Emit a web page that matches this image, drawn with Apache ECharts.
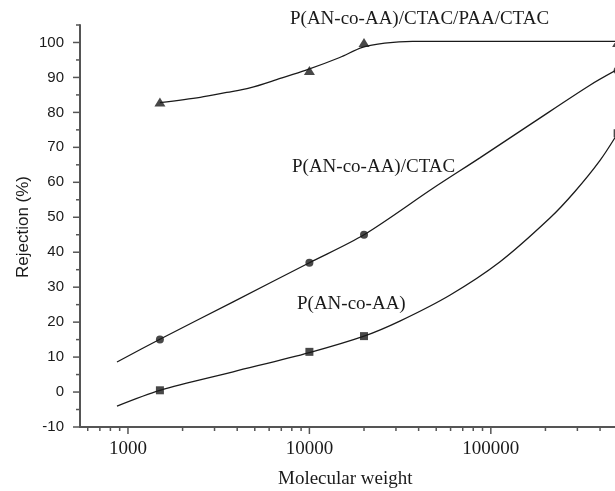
<!DOCTYPE html>
<html>
<head>
<meta charset="utf-8">
<script src="https://cdn.jsdelivr.net/npm/echarts@6/dist/echarts.min.js"></script>
<style>
  html, body { margin: 0; padding: 0; background: #ffffff; }
  #chart { width: 615px; height: 491px; }
</style>
</head>
<body>
<div id="chart"></div>
<script>
// Measured rejection (%) against molecular weight of the solute
const molecularWeight = [1500, 10000, 20000, 500000];
const rejectionBilayer = [83, 92, 100, 100];       // P(AN-co-AA)/CTAC/PAA/CTAC
const rejectionCtac = [15, 37, 45, 92];            // P(AN-co-AA)/CTAC
const rejectionCopolymer = [0.5, 11.5, 16, 74];    // P(AN-co-AA)

// Fitted trend curves through each set
const fitBilayerMw = [1500, 2500, 3500, 4700, 6900, 9500, 14700, 19600, 26000, 37000, 100000, 500000];
const fitBilayerRej = [82.8, 84.3, 85.7, 87, 89.7, 92, 95.7, 98.6, 99.8, 100.3, 100.3, 100.3];

const fitCtacMw = [870, 1500, 3800, 10000, 20000, 48000, 87000, 170000, 350000, 500000];
const fitCtacRej = [8.6, 15.1, 25.8, 37, 45, 58.3, 67, 77, 87.7, 92.3];

const fitCopolymerMw = [870, 1500, 3800, 10000, 20000, 31500, 59400, 112000, 211000, 290000, 399000, 500000];
const fitCopolymerRej = [-4, 0.5, 5.8, 11.3, 16, 20.3, 27.7, 37.2, 49.7, 57.3, 66.2, 74];

// Axis ticks
const xDecadeTicks = [1000, 10000, 100000];
const xMinorTicks = [600, 700, 800, 900,
  2000, 3000, 4000, 5000, 6000, 7000, 8000, 9000,
  20000, 30000, 40000, 50000, 60000, 70000, 80000, 90000,
  200000, 300000, 400000, 500000];
const yMajorTicks = [-10, 0, 10, 20, 30, 40, 50, 60, 70, 80, 90, 100];
const yMinorTicks = [-5, 5, 15, 25, 35, 45, 55, 65, 75, 85, 95, 105];

const X_MIN = 544, X_MAX = 600000, Y_MIN = -10, Y_MAX = 105;
const AXIS_COLOR = '#555555';
const INK = '#1a1a1a';
const SERIF = '"Liberation Serif", "Times New Roman", serif';
const SANS = '"Liberation Sans", Arial, sans-serif';

const zip = (xs, ys) => xs.map((x, i) => [x, ys[i]]);

function xTicks(values, len) {
  return {
    type: 'custom', silent: true, clip: false, z: 5,
    data: values.map(v => [v, Y_MIN]),
    encode: { x: 0, y: 1 },
    renderItem: (params, api) => {
      const p = api.coord([api.value(0), api.value(1)]);
      return { type: 'line', shape: { x1: p[0], y1: p[1], x2: p[0], y2: p[1] + len },
               style: { stroke: AXIS_COLOR, lineWidth: 1.5 } };
    }
  };
}
function yTicks(values, len) {
  return {
    type: 'custom', silent: true, clip: false, z: 5,
    data: values.map(v => [X_MIN, v]),
    encode: { x: 0, y: 1 },
    renderItem: (params, api) => {
      const p = api.coord([api.value(0), api.value(1)]);
      return { type: 'line', shape: { x1: p[0], y1: p[1], x2: p[0] - len, y2: p[1] },
               style: { stroke: AXIS_COLOR, lineWidth: 1.5 } };
    }
  };
}

function fitLine(name, xs, ys) {
  return {
    name, type: 'line', data: zip(xs, ys), smooth: 0.3,
    showSymbol: false, symbol: 'none', silent: true, clip: false,
    lineStyle: { color: INK, width: 1.3 }, z: 3
  };
}
function markers(name, ys, symbol, size) {
  return {
    name, type: 'scatter', data: zip(molecularWeight, ys), symbol, symbolSize: size,
    itemStyle: { color: INK }, silent: true, clip: false, z: 4
  };
}

const chart = echarts.init(document.getElementById('chart'), null, { renderer: 'canvas' });
chart.setOption({
  animation: false,
  backgroundColor: '#ffffff',
  // the plot runs a little past the right edge of the canvas
  grid: { left: 80, top: 25, width: 552, height: 402, containLabel: false, outerBoundsMode: 'none' },
  xAxis: {
    type: 'log', logBase: 10, min: X_MIN, max: X_MAX,
    axisLine: { show: true, onZero: false, lineStyle: { color: AXIS_COLOR, width: 2 } },
    axisTick: { show: false },
    splitLine: { show: false },
    axisLabel: {
      margin: 13, color: INK, fontFamily: SERIF, fontSize: 19,
      formatter: v => {
        const l = Math.log10(v);
        return Math.abs(l - Math.round(l)) < 1e-6 ? String(Math.round(v)) : '';
      }
    }
  },
  yAxis: {
    type: 'value', min: Y_MIN, max: Y_MAX, interval: 10,
    axisLine: { show: true, onZero: false, lineStyle: { color: AXIS_COLOR, width: 2 } },
    axisTick: { show: false },
    splitLine: { show: false },
    axisLabel: {
      margin: 16, color: INK, fontFamily: SANS, fontSize: 15,
      showMaxLabel: false,
      formatter: v => (v % 10 === 0 ? String(v) : '')
    }
  },
  series: [
    xTicks(xDecadeTicks, 7),
    xTicks(xMinorTicks, 4),
    yTicks(yMajorTicks, 7),
    yTicks(yMinorTicks, 4),
    fitLine('P(AN-co-AA)/CTAC/PAA/CTAC fit', fitBilayerMw, fitBilayerRej),
    fitLine('P(AN-co-AA)/CTAC fit', fitCtacMw, fitCtacRej),
    fitLine('P(AN-co-AA) fit', fitCopolymerMw, fitCopolymerRej),
    markers('P(AN-co-AA)/CTAC/PAA/CTAC', rejectionBilayer, 'triangle', [11, 9]),
    markers('P(AN-co-AA)/CTAC', rejectionCtac, 'circle', 8),
    markers('P(AN-co-AA)', rejectionCopolymer, 'rect', 8)
  ],
  graphic: [
    { type: 'text', left: 290, top: 10, silent: true,
      style: { text: 'P(AN-co-AA)/CTAC/PAA/CTAC', font: '19px ' + SERIF, fill: INK } },
    { type: 'text', left: 292, top: 158, silent: true,
      style: { text: 'P(AN-co-AA)/CTAC', font: '19px ' + SERIF, fill: INK } },
    { type: 'text', left: 297, top: 295, silent: true,
      style: { text: 'P(AN-co-AA)', font: '19px ' + SERIF, fill: INK } },
    { type: 'text', left: 278, top: 470, silent: true,
      style: { text: 'Molecular weight', font: '19px ' + SERIF, fill: INK } },
    { type: 'text', x: 23, y: 227, rotation: Math.PI / 2, silent: true,
      style: { text: 'Rejection (%)', font: '17px ' + SANS, fill: INK,
               align: 'center', verticalAlign: 'middle' } }
  ]
});
</script>
</body>
</html>
